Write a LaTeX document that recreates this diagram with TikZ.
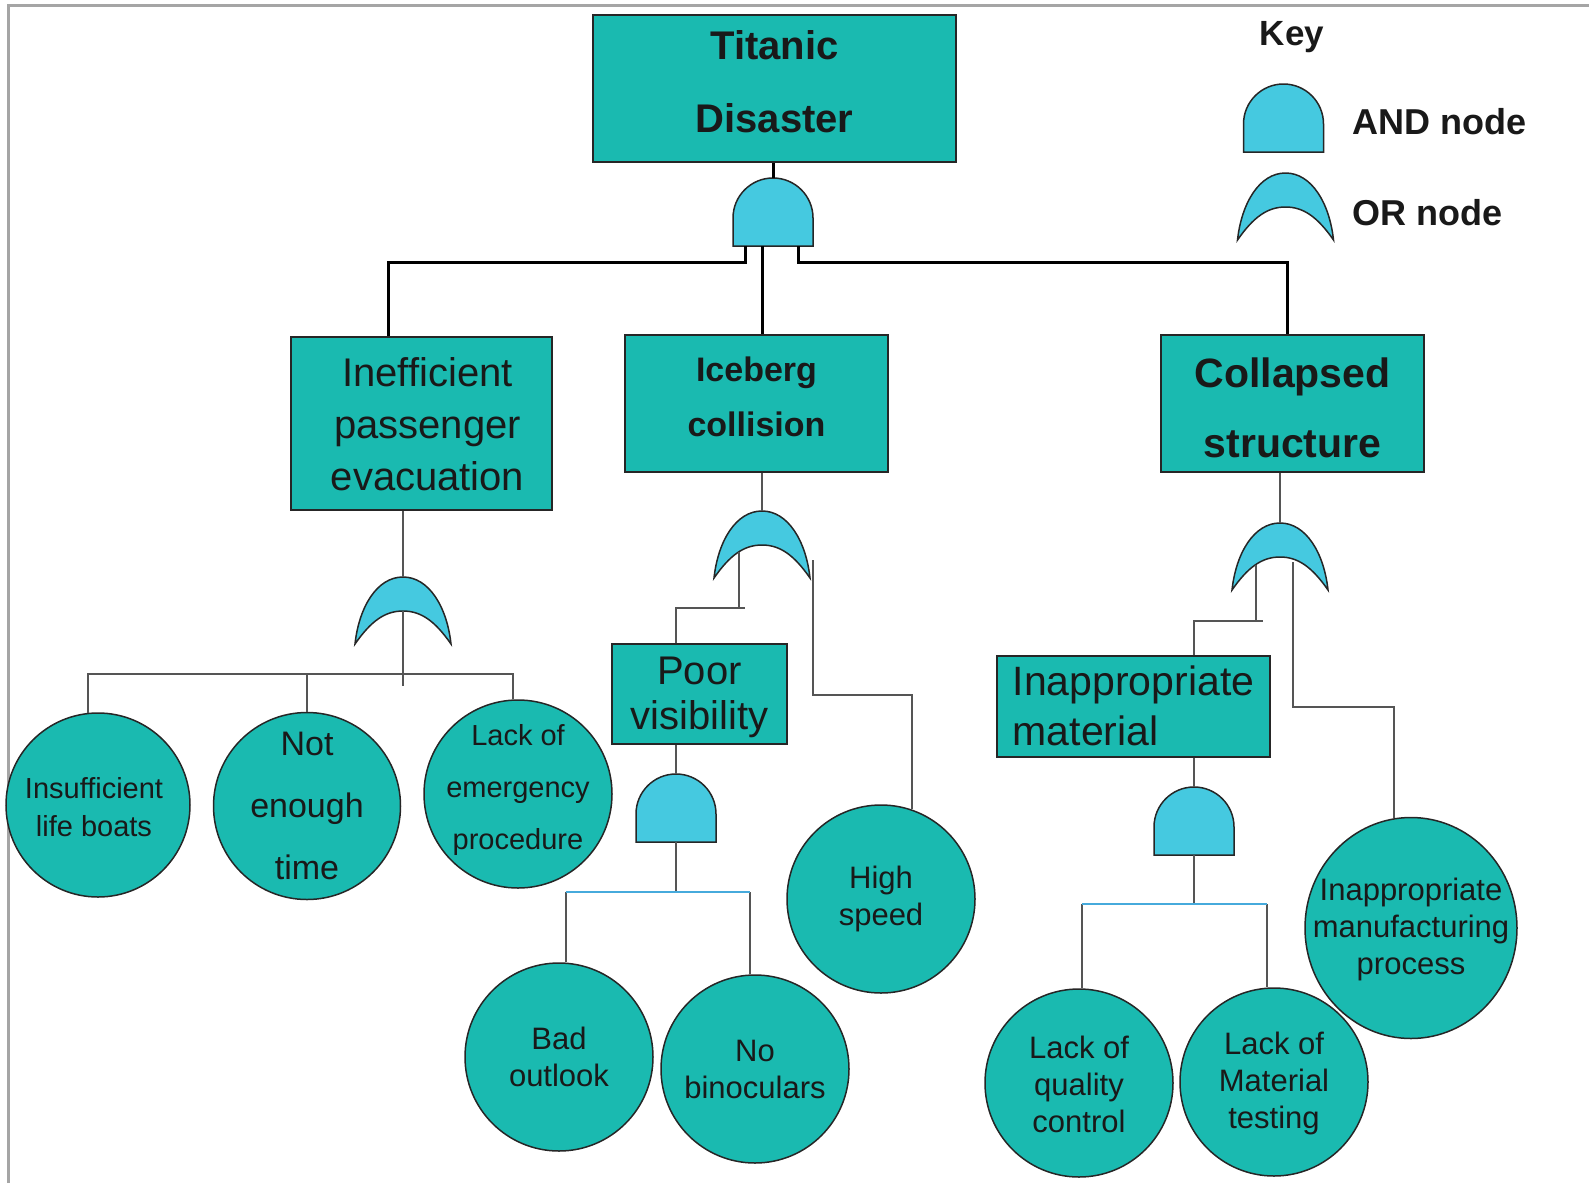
\documentclass[tikz,border=0pt]{standalone}
\usepackage{fontspec}
\setmainfont{Liberation Sans}
\usetikzlibrary{calc,shapes.geometric}
\definecolor{boxteal}{RGB}{26,186,176}
\definecolor{gatecyan}{RGB}{69,201,224}
\definecolor{linegray}{RGB}{85,85,85}
\definecolor{lineblue}{RGB}{70,170,220}
\definecolor{framegray}{RGB}{165,165,165}
\begin{document}
\begin{tikzpicture}[x=1pt,y=-1pt,
  box/.style={draw=black!85, fill=boxteal, line width=1.5pt, inner sep=0pt},
  btext/.style={align=center, inner sep=0pt, text=black!90},
  circ/.style={circle, draw=black!85, fill=boxteal, line width=1.5pt, inner sep=0pt, minimum size=188pt},
  ctext/.style={align=center, inner sep=0pt, font=\fontsize{31}{37}\selectfont, text=black!90},
  topconn/.style={line width=3pt, draw=black},
  conn/.style={line width=2pt, draw=linegray},
  bconn/.style={line width=1.5pt, draw=lineblue},
  gate/.style={fill=gatecyan, draw=black!85, line width=1.5pt},
  andgate/.pic={
    \path[gate] (-40,68) -- (-40,40) arc[start angle=180,end angle=360,radius=40] -- (40,68) -- cycle;
    \coordinate (-top) at (0,0);
    \coordinate (-bot) at (0,68);
  },
  orgate/.pic={
    \path[gate] (-48,67) .. controls (-44,30) and (-26,0) .. (0,0)
      .. controls (26,0) and (44,30) .. (48,67)
      .. controls (32,44) and (18,34) .. (0,34)
      .. controls (-18,34) and (-32,44) .. (-48,67) -- cycle;
    \coordinate (-top) at (0,0);
    \coordinate (-in) at (0,34);
  },
]
\useasboundingbox (0,0) rectangle (1589,1183);
\draw[framegray, line width=3pt] (8,1183) -- (8,5) -- (1589,5);

% boxes
\node[box, minimum width=363pt, minimum height=147pt,
  label={[btext, font=\bfseries\fontsize{40}{73}\selectfont, yshift=7pt]center:Titanic\\Disaster}] (title) at (774.5,88.5) {};
\node[box, minimum width=261pt, minimum height=173pt,
  label={[btext, font=\fontsize{40}{52}\selectfont, yshift=-1pt, xshift=6pt]center:Inefficient\\passenger\\evacuation}] (evac) at (421.5,423.5) {};
\node[box, minimum width=263pt, minimum height=137pt,
  label={[btext, font=\bfseries\fontsize{34}{55}\selectfont, yshift=7pt]center:Iceberg\\collision}] (ice) at (756.5,403.5) {};
\node[box, minimum width=263pt, minimum height=137pt,
  label={[btext, font=\bfseries\fontsize{41}{70}\selectfont, yshift=-4pt]center:Collapsed\\structure}] (coll) at (1292.5,403.5) {};
\node[box, minimum width=175pt, minimum height=100pt,
  label={[btext, font=\fontsize{40}{45}\selectfont, yshift=-3pt]center:Poor\\visibility}] (poor) at (699.5,694) {};
\node[box, minimum width=273pt, minimum height=101pt,
  label={[btext, align=left, font=\fontsize{41}{50}\selectfont, yshift=1pt]center:Inappropriate\\material}] (mat) at (1133.5,706.5) {};

% gates
\pic (g0) at (773,178) {andgate};
\pic (g1) at (403,577) {orgate};
\pic (g2) at (762,511) {orgate};
\pic (g3) at (676,774) {andgate};
\pic (g4) at (1280,523) {orgate};
\pic (g5) at (1194,787) {andgate};

% circles
\node[circ, minimum size=184pt, label={[ctext, font=\fontsize{29}{38}\selectfont, yshift=-2pt, xshift=-4pt]center:Insufficient\\life boats}] (ins) at (98,805) {};
\node[circ, minimum size=187pt, label={[ctext, font=\fontsize{34}{62}\selectfont]center:Not\\enough\\time}] (noten) at (307,806) {};
\node[circ, label={[ctext, font=\fontsize{29}{52}\selectfont, yshift=4pt]center:Lack of\\emergency\\procedure}] (emer) at (518,794) {};
\node[circ, label={[ctext]center:Bad\\outlook}] (bad) at (559,1057) {};
\node[circ, label={[ctext]center:No\\binoculars}] (nob) at (755,1069) {};
\node[circ, label={[ctext]center:High\\speed}] (high) at (881,899) {};
\node[circ, label={[ctext, yshift=-1pt]center:Lack of\\quality\\control}] (lqc) at (1079,1083) {};
\node[circ, label={[ctext, yshift=-1pt]center:Lack of\\Material\\testing}] (lmt) at (1274,1082) {};
\node[ellipse, draw=black!85, fill=boxteal, line width=1.5pt, inner sep=0pt,
  minimum width=212pt, minimum height=221pt,
  label={[ctext, yshift=-1pt]center:Inappropriate\\manufacturing\\process}] (imp) at (1411,928) {};

% connectors from top gate
\draw[topconn] (g0-top |- title.south) -- (g0-top);
\draw[topconn] ($(g0-bot)+(-28,0)$) -- ++(0,16) -| ($(evac.north)+(-33.5,0)$);
\coordinate (g0m) at ($(g0-bot)+(-11,0)$);
\draw[topconn] (g0m) -- (g0m |- ice.north);
\draw[topconn] ($(g0-bot)+(25,0)$) -- ++(0,16) -| ($(coll.north)+(-5.5,0)$);

% evacuation branch
\draw[conn] (g1-top |- evac.south) -- (g1-top);
\draw[conn] (g1-in) -- ++(0,75);
\coordinate (bar1) at ($(g1-in)+(0,63)$);
\draw[conn] (ins.96) |- (bar1) -| (emer.93);
\draw[conn] (noten.north) -- (noten.north |- bar1);

% iceberg branch
\draw[conn] (g2-top |- ice.south) -- (g2-top);
\coordinate (g2l) at ($(g2-top)+(-23.5,41)$);
\draw[conn] (g2l) -- ++(0,56) coordinate (g2lc) -- ++(6,0);
\draw[conn] (g2lc) -| ($(poor.north)+(-23.5,0)$);
\coordinate (g2r) at ($(g2-top)+(50.5,49)$);
\draw[conn] (g2r) -- ++(0,135) -| (high.71);

% poor visibility branch
\draw[conn] (g3-top |- poor.south) -- (g3-top);
\coordinate (bar3) at ($(g3-bot)+(0,50)$);
\draw[conn] (g3-bot) -- (bar3);
\draw[conn] (bad.86) -- (bad.86 |- bar3);
\draw[conn] (nob.93) -- (nob.93 |- bar3);
\draw[bconn] (bad.86 |- bar3) -- (nob.93 |- bar3);

% collapsed structure branch
\draw[conn] (g4-top |- coll.south) -- (g4-top);
\coordinate (g4l) at ($(g4-top)+(-24,42)$);
\draw[conn] (g4l) -- ++(0,56) coordinate (g4lc) -- ++(7,0);
\draw[conn] (g4lc) -| ($(mat.north)+(60.5,0)$);
\coordinate (g4r) at ($(g4-top)+(13,39)$);
\draw[conn] (g4r) -- ++(0,145) -| (imp.99);

% material branch
\draw[conn] (g5-top |- mat.south) -- (g5-top);
\coordinate (bar5) at ($(g5-bot)+(0,49)$);
\draw[conn] (g5-bot) -- (bar5);
\draw[conn] (lqc.88) -- (lqc.88 |- bar5);
\draw[conn] (lmt.94) -- (lmt.94 |- bar5);
\draw[bconn] (lqc.88 |- bar5) -- (lmt.94 |- bar5);

% key
\node[btext, font=\bfseries\fontsize{35}{40}\selectfont] (keyt) at (1292,37) {Key};
\pic (kand) at (1283.5,84) {andgate};
\pic (kor) at (1285.5,173) {orgate};
\node[btext, anchor=west, font=\bfseries\fontsize{36}{40}\selectfont] (kandt) at (1352,122) {AND node};
\node[btext, anchor=west, font=\bfseries\fontsize{36}{40}\selectfont] (kort) at (1352,213) {OR node};
\end{tikzpicture}
\end{document}
